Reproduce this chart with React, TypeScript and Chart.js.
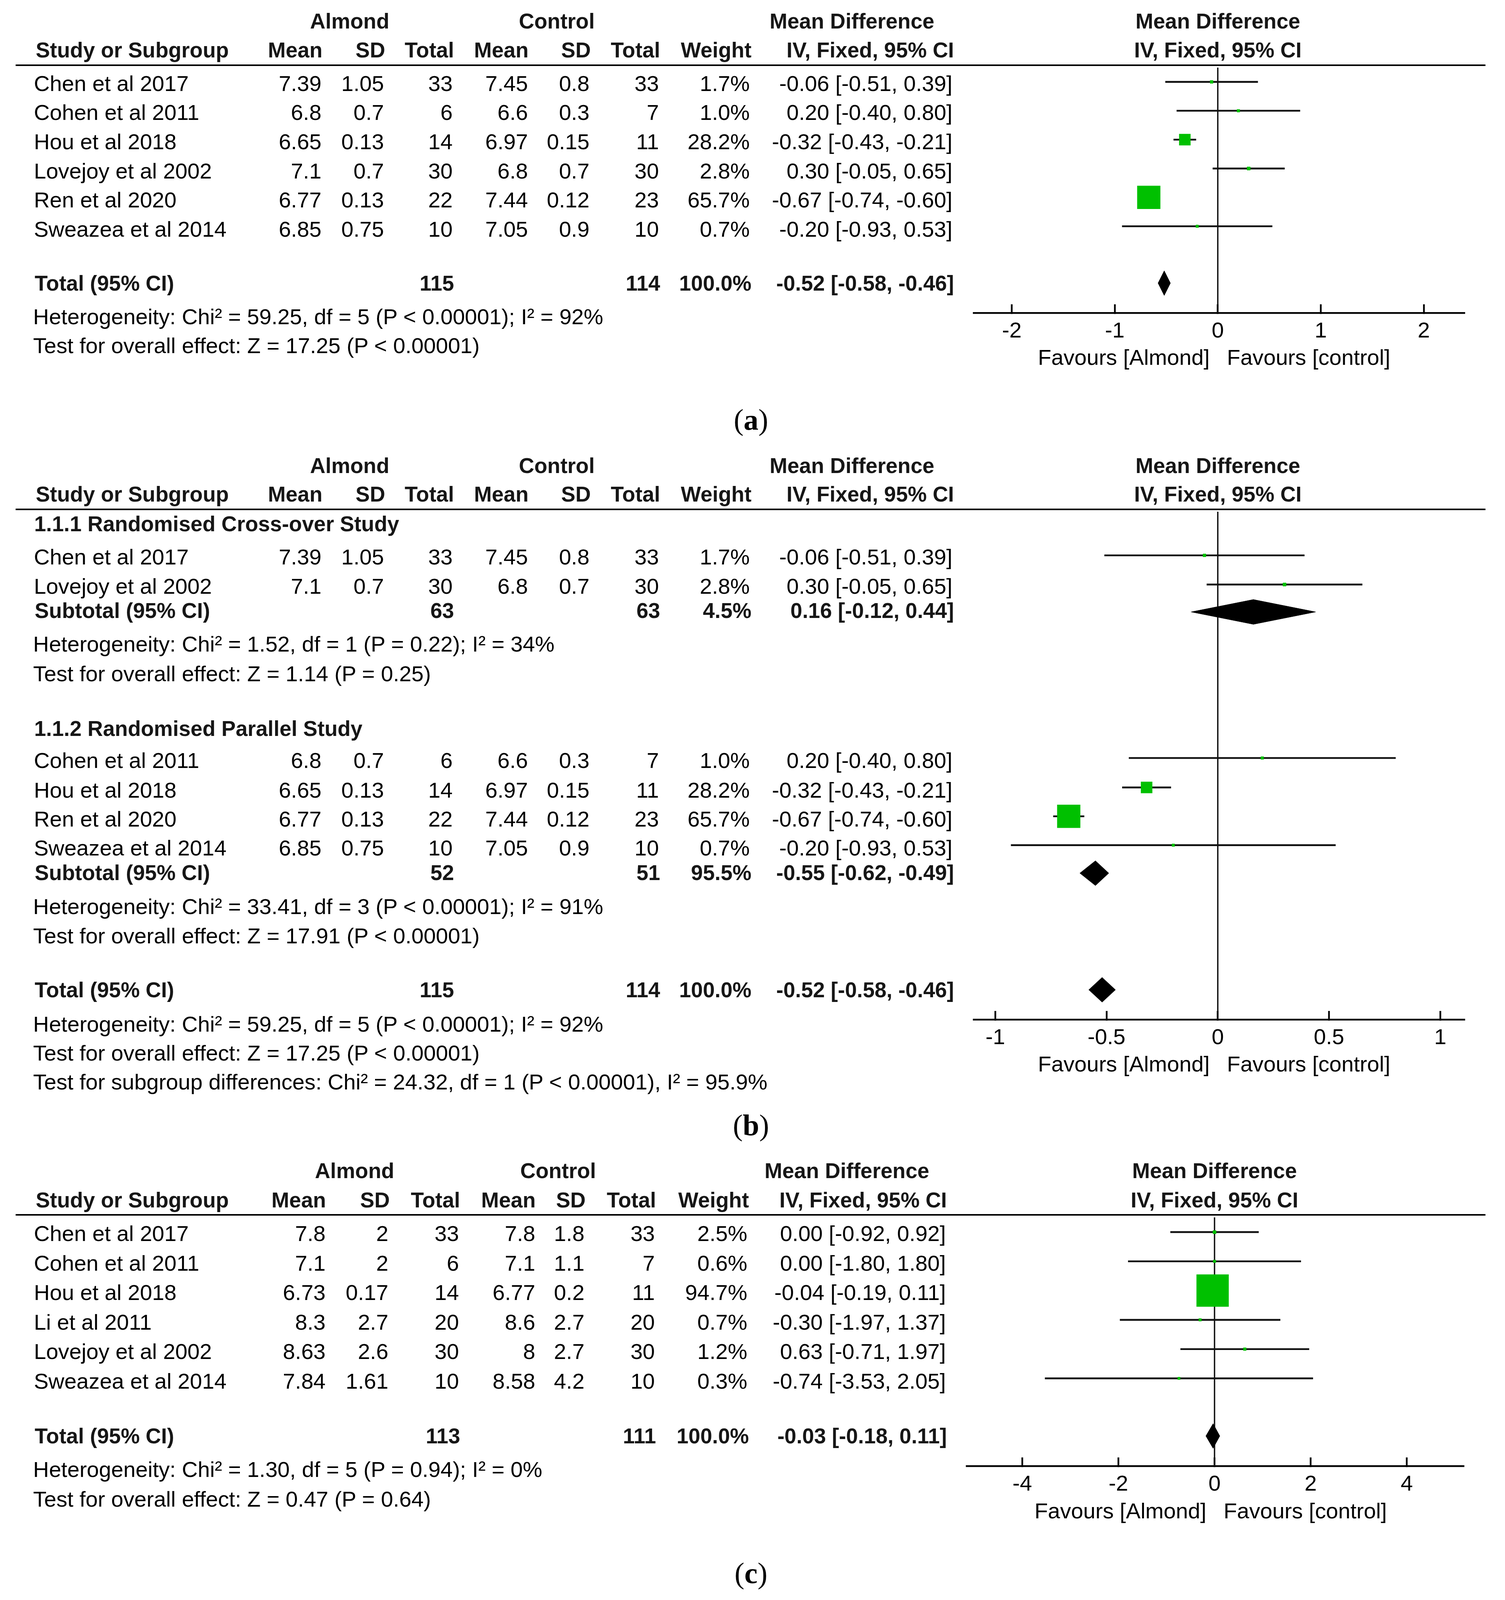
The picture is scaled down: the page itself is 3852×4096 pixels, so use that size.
import React, { useEffect, useRef } from "react";
import { Chart, registerables } from "chart.js";

Chart.register(...registerables);

// ---------- global scale (reference shown at 1475 px wide) ----------
const K = 3852 / 1475;
const SANS = '"Liberation Sans", Arial, Helvetica, sans-serif';
const SERIF = '"Liberation Serif", "Times New Roman", serif';
const FS = 21.5 * K;
const FSB = 20.9 * K;
const INK = "#000000";
const HEAD_INK = "#161616";
const GREEN = "#00C000";

// ---------- panel (a) data ----------
const studiesA = ["Chen et al 2017", "Cohen et al 2011", "Hou et al 2018", "Lovejoy et al 2002", "Ren et al 2020", "Sweazea et al 2014"];
const almondMeanA = [7.39, 6.8, 6.65, 7.1, 6.77, 6.85];
const almondSdA = [1.05, 0.7, 0.13, 0.7, 0.13, 0.75];
const almondNA = [33, 6, 14, 30, 22, 10];
const controlMeanA = [7.45, 6.6, 6.97, 6.8, 7.44, 7.05];
const controlSdA = [0.8, 0.3, 0.15, 0.7, 0.12, 0.9];
const controlNA = [33, 7, 11, 30, 23, 10];
const weightA = [1.7, 1.0, 28.2, 2.8, 65.7, 0.7];
const mdA = [-0.06, 0.2, -0.32, 0.3, -0.67, -0.2];
const loA = [-0.51, -0.4, -0.43, -0.05, -0.74, -0.93];
const hiA = [0.39, 0.8, -0.21, 0.65, -0.6, 0.53];
const totalA = [-0.52, -0.58, -0.46]; // md, lo, hi
const totalNA = [115, 114];
const statsA = [
  "Heterogeneity: Chi² = 59.25, df = 5 (P < 0.00001); I² = 92%",
  "Test for overall effect: Z = 17.25 (P < 0.00001)",
];
const ticksA = [-2, -1, 0, 1, 2];

// ---------- panel (b) data (subgroups index into the (a) study arrays) ----------
const groupNamesB = ["1.1.1 Randomised Cross-over Study", "1.1.2 Randomised Parallel Study"];
const groupB1 = [0, 3];
const groupB2 = [1, 2, 4, 5];
const subtotalB1 = [0.16, -0.12, 0.44];
const subtotalB2 = [-0.55, -0.62, -0.49];
const subNB1 = [63, 63];
const subNB2 = [52, 51];
const subWeightB = [4.5, 95.5];
const statsB1 = [
  "Heterogeneity: Chi² = 1.52, df = 1 (P = 0.22); I² = 34%",
  "Test for overall effect: Z = 1.14 (P = 0.25)",
];
const statsB2 = [
  "Heterogeneity: Chi² = 33.41, df = 3 (P < 0.00001); I² = 91%",
  "Test for overall effect: Z = 17.91 (P < 0.00001)",
];
const statsBTotal = [
  "Heterogeneity: Chi² = 59.25, df = 5 (P < 0.00001); I² = 92%",
  "Test for overall effect: Z = 17.25 (P < 0.00001)",
  "Test for subgroup differences: Chi² = 24.32, df = 1 (P < 0.00001), I² = 95.9%",
];
const ticksB = [-1, -0.5, 0, 0.5, 1];

// ---------- panel (c) data ----------
const studiesC = ["Chen et al 2017", "Cohen et al 2011", "Hou et al 2018", "Li et al 2011", "Lovejoy et al 2002", "Sweazea et al 2014"];
const almondMeanC = [7.8, 7.1, 6.73, 8.3, 8.63, 7.84];
const almondSdC = [2, 2, 0.17, 2.7, 2.6, 1.61];
const almondNC = [33, 6, 14, 20, 30, 10];
const controlMeanC = [7.8, 7.1, 6.77, 8.6, 8, 8.58];
const controlSdC = [1.8, 1.1, 0.2, 2.7, 2.7, 4.2];
const controlNC = [33, 7, 11, 20, 30, 10];
const weightC = [2.5, 0.6, 94.7, 0.7, 1.2, 0.3];
const mdC = [0.0, 0.0, -0.04, -0.3, 0.63, -0.74];
const loC = [-0.92, -1.8, -0.19, -1.97, -0.71, -3.53];
const hiC = [0.92, 1.8, 0.11, 1.37, 1.97, 2.05];
const totalC = [-0.03, -0.18, 0.11];
const totalNC = [113, 111];
const statsC = [
  "Heterogeneity: Chi² = 1.30, df = 5 (P = 0.94); I² = 0%",
  "Test for overall effect: Z = 0.47 (P = 0.64)",
];
const ticksC = [-4, -2, 0, 2, 4];

const headerTop = ["Almond", "Control", "Mean Difference"];
const headerCols = ["Study or Subgroup", "Mean", "SD", "Total", "Mean", "SD", "Total", "Weight", "IV, Fixed, 95% CI"];
const favours = ["Favours [Almond]", "Favours [control]"];

// ---------- layout (in reference-thumbnail px) ----------
type Cols = { name: number; mean: number; sd: number; total: number; cmean: number; csd: number; ctotal: number; weight: number; ci: number };
const COLS_AB: Cols = { name: 33.2, mean: 315, sd: 376.3, total: 443.6, cmean: 517.4, csd: 577.7, ctotal: 645.8, weight: 734.8, ci: 933.4 };
const HCOLS_AB: Cols = { name: 35, mean: 316, sd: 377.5, total: 445, cmean: 518, csd: 579, ctotal: 647, weight: 736.5, ci: 935 };
const COLS_C: Cols = { name: 33.2, mean: 319.1, sd: 380.6, total: 449.8, cmean: 524.6, csd: 572.8, ctotal: 641.8, weight: 732.4, ci: 927 };
const HCOLS_C: Cols = { name: 35, mean: 319.5, sd: 382, total: 451, cmean: 525, csd: 574, ctotal: 643, weight: 734, ci: 928 };
const TOP_AB = [342.7, 545.7, 835];
const TOP_C = [347.5, 547, 830];

type PlotLayout = { h1: number; h2: number; line: number; axis: number; base: number; rowH: number; zero: number; unit: number; left: number; right: number; fav: number; label: number };
const LAY_A: PlotLayout = { h1: 20.9, h2: 49.5, line: 63.9, axis: 306.6, base: 78.1, rowH: 28.56, zero: 1193.6, unit: 101.9, left: 952, right: 1438, fav: 350.3, label: 411.5 };
const LAY_B: PlotLayout = { h1: 456.8, h2: 484.9, line: 499.4, axis: 999.3, base: 542.4, rowH: 28.7, zero: 1193.6, unit: 220.1, left: 952, right: 1438, fav: 1043, label: 1103 };
const LAY_C: PlotLayout = { h1: 1148, h2: 1176.7, line: 1190.9, axis: 1436.9, base: 1205.5, rowH: 28.94, zero: 1190.3, unit: 47.56, left: 945.1, right: 1437.4, fav: 1481, label: 1542.5 };

const SLOTS_A = [0, 1, 2, 3, 4, 5];
const TOTAL_SLOT_A = 6.97;
const SLOTS_B1 = [0, 1];
const SUB_SLOT_B1 = 1.94;
const SLOTS_B2 = [6.95, 7.96, 8.95, 9.94];
const SUB_SLOT_B2 = 10.9;
const TOTAL_SLOT_B = 14.9;
const SLOTS_C = [0, 1, 2, 3, 4, 5];
const TOTAL_SLOT_C = 6.97;

const STUDY_OFF = 3.8;
const TOTAL_OFF = 0.7;
const AXIS_H = 100;
const DIAMOND_HALF = 12.2; // thumbnail px
const squareSide = (w: number) => (7 + 0.8 * w) * 0.999;

const f2 = (v: number) => v.toFixed(2);
const ciText = (md: number, lo: number, hi: number) => `${f2(md)} [${f2(lo)}, ${f2(hi)}]`;

// ---------- text ----------
function T({ x, y, s, a = "l", b = false }: { x: number; y: number; s: React.ReactNode; a?: "l" | "r" | "c"; b?: boolean }) {
  const tx = a === "l" ? "0" : a === "r" ? "-100%" : "-50%";
  return (
    <div
      style={{
        position: "absolute",
        left: x * K,
        top: y * K,
        transform: `translate(${tx}, -50%)`,
        fontFamily: SANS,
        fontSize: b ? FSB : FS,
        fontWeight: b ? 700 : 400,
        lineHeight: 1,
        whiteSpace: "nowrap",
        color: b ? HEAD_INK : INK,
      }}
    >
      {s}
    </div>
  );
}

function Header({ lay, hc, top }: { lay: PlotLayout; hc: Cols; top: number[] }) {
  const keys: (keyof Cols)[] = ["mean", "sd", "total", "cmean", "csd", "ctotal", "weight", "ci"];
  return (
    <>
      {headerTop.map((s, i) => (
        <T key={"t" + i} x={top[i]} y={lay.h1} s={s} a="c" b />
      ))}
      <T x={lay.zero} y={lay.h1} s={headerTop[2]} a="c" b />
      <T x={hc.name} y={lay.h2} s={headerCols[0]} b />
      {keys.map((k, i) => (
        <T key={"h" + i} x={hc[k]} y={lay.h2} s={headerCols[i + 1]} a="r" b />
      ))}
      <T x={lay.zero} y={lay.h2} s={headerCols[8]} a="c" b />
      <div
        style={{
          position: "absolute",
          left: 15.2 * K,
          top: lay.line * K - 2.3,
          width: (1455.7 - 15.2) * K,
          height: 4.6,
          background: "#000",
        }}
      />
    </>
  );
}

function StudyRow({ y, c, v }: { y: number; c: Cols; v: (string | number)[] }) {
  return (
    <>
      <T x={c.name} y={y} s={v[0]} />
      <T x={c.mean} y={y} s={String(v[1])} a="r" />
      <T x={c.sd} y={y} s={String(v[2])} a="r" />
      <T x={c.total} y={y} s={String(v[3])} a="r" />
      <T x={c.cmean} y={y} s={String(v[4])} a="r" />
      <T x={c.csd} y={y} s={String(v[5])} a="r" />
      <T x={c.ctotal} y={y} s={String(v[6])} a="r" />
      <T x={c.weight} y={y} s={String(v[7])} a="r" />
      <T x={c.ci} y={y} s={String(v[8])} a="r" />
    </>
  );
}

function SumRow({ y, c, label, nA, nC, w, ci }: { y: number; c: Cols; label: string; nA: number; nC: number; w: number; ci: string }) {
  return (
    <>
      <T x={34} y={y} s={label} b />
      <T x={c.total} y={y} s={String(nA)} a="r" b />
      <T x={c.ctotal} y={y} s={String(nC)} a="r" b />
      <T x={c.weight} y={y} s={w.toFixed(1) + "%"} a="r" b />
      <T x={c.ci} y={y} s={ci} a="r" b />
    </>
  );
}

function Favours({ lay }: { lay: PlotLayout }) {
  return (
    <>
      <T x={lay.zero - 8.0} y={lay.fav} s={favours[0]} a="r" />
      <T x={lay.zero + 8.9} y={lay.fav} s={favours[1]} />
    </>
  );
}

function PanelLabel({ y, ch }: { y: number; ch: string }) {
  return (
    <div
      style={{
        position: "absolute",
        left: 736 * K,
        top: y * K,
        transform: "translate(-50%, -50%)",
        fontFamily: SERIF,
        fontSize: 29 * K,
        lineHeight: 1,
        color: "#000",
        whiteSpace: "nowrap",
      }}
    >
      (<b>{ch}</b>)
    </div>
  );
}

// ---------- forest plot (Chart.js) ----------
type StudyMark = { md: number; lo: number; hi: number; w: number; slot: number };
type DiamondMark = { md: number; lo: number; hi: number; slot: number };

function Forest({ lay, ticks, studies, diamonds }: { lay: PlotLayout; ticks: number[]; studies: StudyMark[]; diamonds: DiamondMark[] }) {
  const ref = useRef<HTMLCanvasElement | null>(null);
  const left = Math.round(lay.left * K);
  const top = Math.round(lay.line * K);
  const width = Math.round(lay.right * K) - left;
  const areaH = Math.round(lay.axis * K) - top;
  const height = areaH + AXIS_H;

  useEffect(() => {
    if (!ref.current) return;
    const yMin = (lay.line - lay.base) / lay.rowH;
    const yMax = (lay.axis - lay.base) / lay.rowH;
    const xMin = (lay.left - lay.zero) / lay.unit;
    const xMax = (lay.right - lay.zero) / lay.unit;
    const half = DIAMOND_HALF / lay.rowH;

    const datasets: any[] = [
      {
        data: studies.map((s) => ({ x: s.md, y: s.slot, w: s.w })),
        showLine: false,
        pointStyle: "rect",
        pointRadius: (c: any) => (c.raw ? squareSide(c.raw.w) / Math.SQRT2 : 0),
        pointHoverRadius: (c: any) => (c.raw ? squareSide(c.raw.w) / Math.SQRT2 : 0),
        pointBackgroundColor: GREEN,
        pointBorderWidth: 0,
        backgroundColor: GREEN,
        borderColor: GREEN,
        borderWidth: 0,
      },
      ...studies.map((s) => ({
        data: [
          { x: s.lo, y: s.slot },
          { x: s.hi, y: s.slot },
        ],
        borderColor: "#111111",
        borderWidth: 4.6,
        pointRadius: 0,
        fill: false,
      })),
      ...diamonds.map((d) => ({
        data: [
          { x: d.lo, y: d.slot },
          { x: d.md, y: d.slot - half },
          { x: d.hi, y: d.slot },
          { x: d.md, y: d.slot + half },
          { x: d.lo, y: d.slot },
        ],
        fill: "shape",
        backgroundColor: "#000000",
        borderColor: "#000000",
        borderWidth: 1,
        pointRadius: 0,
        tension: 0,
      })),
      {
        data: [
          { x: 0, y: yMin },
          { x: 0, y: yMax },
        ],
        borderColor: "#111111",
        borderWidth: 3.5,
        pointRadius: 0,
        fill: false,
      },
    ];

    const chart = new Chart(ref.current, {
      type: "line",
      data: { datasets },
      options: {
        animation: false,
        responsive: false,
        maintainAspectRatio: false,
        devicePixelRatio: 1,
        events: [],
        layout: { padding: 0 },
        plugins: { legend: { display: false }, tooltip: { enabled: false } },
        scales: {
          x: {
            type: "linear",
            position: "bottom",
            min: xMin,
            max: xMax,
            afterBuildTicks: (s: any) => {
              s.ticks = ticks.map((v) => ({ value: v }));
            },
            afterFit: (s: any) => {
              s.height = AXIS_H;
            },
            ticks: {
              callback: (v: any) => String(v),
              font: { family: "Liberation Sans", size: FS },
              color: "#000",
              padding: 36,
              maxRotation: 0,
              minRotation: 0,
              autoSkip: false,
            },
            grid: {
              display: true,
              drawOnChartArea: false,
              drawTicks: true,
              tickLength: -22,
              tickWidth: 4.4,
              tickColor: "#000",
            },
            border: { display: true, width: 4.6, color: "#000" },
          },
          y: { type: "linear", display: false, reverse: true, min: yMin, max: yMax },
        },
      } as any,
    });
    return () => chart.destroy();
  }, []);

  return <canvas ref={ref} width={width} height={height} style={{ position: "absolute", left, top, width, height }} />;
}

// ---------- panels ----------
function PanelA() {
  const lay = LAY_A;
  const rowY = (s: number, off: number) => lay.base + s * lay.rowH + off;
  const studies: StudyMark[] = studiesA.map((_, i) => ({ md: mdA[i], lo: loA[i], hi: hiA[i], w: weightA[i], slot: SLOTS_A[i] }));
  return (
    <>
      <Header lay={lay} hc={HCOLS_AB} top={TOP_AB} />
      {studiesA.map((n, i) => (
        <StudyRow
          key={i}
          y={rowY(SLOTS_A[i], STUDY_OFF)}
          c={COLS_AB}
          v={[n, almondMeanA[i], almondSdA[i], almondNA[i], controlMeanA[i], controlSdA[i], controlNA[i], weightA[i].toFixed(1) + "%", ciText(mdA[i], loA[i], hiA[i])]}
        />
      ))}
      <SumRow y={rowY(TOTAL_SLOT_A, TOTAL_OFF)} c={HCOLS_AB} label="Total (95% CI)" nA={totalNA[0]} nC={totalNA[1]} w={100} ci={ciText(totalA[0], totalA[1], totalA[2])} />
      <T x={32.5} y={310.5} s={statsA[0]} />
      <T x={32.5} y={339} s={statsA[1]} />
      <Forest lay={lay} ticks={ticksA} studies={studies} diamonds={[{ md: totalA[0], lo: totalA[1], hi: totalA[2], slot: TOTAL_SLOT_A }]} />
      <Favours lay={lay} />
      <PanelLabel y={lay.label} ch="a" />
    </>
  );
}

function PanelB() {
  const lay = LAY_B;
  const rowY = (s: number, off: number) => lay.base + s * lay.rowH + off;
  const mk = (idx: number[], slots: number[]): StudyMark[] => idx.map((i, j) => ({ md: mdA[i], lo: loA[i], hi: hiA[i], w: weightA[i], slot: slots[j] }));
  const studies = [...mk(groupB1, SLOTS_B1), ...mk(groupB2, SLOTS_B2)];
  const rows = (idx: number[], slots: number[]) =>
    idx.map((i, j) => (
      <StudyRow
        key={"r" + i}
        y={rowY(slots[j], STUDY_OFF)}
        c={COLS_AB}
        v={[studiesA[i], almondMeanA[i], almondSdA[i], almondNA[i], controlMeanA[i], controlSdA[i], controlNA[i], weightA[i].toFixed(1) + "%", ciText(mdA[i], loA[i], hiA[i])]}
      />
    ));
  return (
    <>
      <Header lay={lay} hc={HCOLS_AB} top={TOP_AB} />
      <T x={33.5} y={514} s={groupNamesB[0]} b />
      {rows(groupB1, SLOTS_B1)}
      <SumRow y={rowY(SUB_SLOT_B1, TOTAL_OFF)} c={HCOLS_AB} label="Subtotal (95% CI)" nA={subNB1[0]} nC={subNB1[1]} w={subWeightB[0]} ci={ciText(subtotalB1[0], subtotalB1[1], subtotalB1[2])} />
      <T x={32.5} y={631.5} s={statsB1[0]} />
      <T x={32.5} y={660.5} s={statsB1[1]} />
      <T x={33.5} y={714.5} s={groupNamesB[1]} b />
      {rows(groupB2, SLOTS_B2)}
      <SumRow y={rowY(SUB_SLOT_B2, TOTAL_OFF)} c={HCOLS_AB} label="Subtotal (95% CI)" nA={subNB2[0]} nC={subNB2[1]} w={subWeightB[1]} ci={ciText(subtotalB2[0], subtotalB2[1], subtotalB2[2])} />
      <T x={32.5} y={888.8} s={statsB2[0]} />
      <T x={32.5} y={917.5} s={statsB2[1]} />
      <SumRow y={rowY(TOTAL_SLOT_B, TOTAL_OFF)} c={HCOLS_AB} label="Total (95% CI)" nA={totalNA[0]} nC={totalNA[1]} w={100} ci={ciText(totalA[0], totalA[1], totalA[2])} />
      <T x={32.5} y={1004.1} s={statsBTotal[0]} />
      <T x={32.5} y={1032.3} s={statsBTotal[1]} />
      <T x={32.5} y={1060.5} s={statsBTotal[2]} />
      <Forest
        lay={lay}
        ticks={ticksB}
        studies={studies}
        diamonds={[
          { md: subtotalB1[0], lo: subtotalB1[1], hi: subtotalB1[2], slot: SUB_SLOT_B1 },
          { md: subtotalB2[0], lo: subtotalB2[1], hi: subtotalB2[2], slot: SUB_SLOT_B2 },
          { md: totalA[0], lo: totalA[1], hi: totalA[2], slot: TOTAL_SLOT_B },
        ]}
      />
      <Favours lay={lay} />
      <PanelLabel y={lay.label} ch="b" />
    </>
  );
}

function PanelC() {
  const lay = LAY_C;
  const rowY = (s: number, off: number) => lay.base + s * lay.rowH + off;
  const studies: StudyMark[] = studiesC.map((_, i) => ({ md: mdC[i], lo: loC[i], hi: hiC[i], w: weightC[i], slot: SLOTS_C[i] }));
  return (
    <>
      <Header lay={lay} hc={HCOLS_C} top={TOP_C} />
      {studiesC.map((n, i) => (
        <StudyRow
          key={i}
          y={rowY(SLOTS_C[i], STUDY_OFF)}
          c={COLS_C}
          v={[n, almondMeanC[i], almondSdC[i], almondNC[i], controlMeanC[i], controlSdC[i], controlNC[i], weightC[i].toFixed(1) + "%", ciText(mdC[i], loC[i], hiC[i])]}
        />
      ))}
      <SumRow y={rowY(TOTAL_SLOT_C, TOTAL_OFF)} c={HCOLS_C} label="Total (95% CI)" nA={totalNC[0]} nC={totalNC[1]} w={100} ci={ciText(totalC[0], totalC[1], totalC[2])} />
      <T x={32.5} y={1440.5} s={statsC[0]} />
      <T x={32.5} y={1469.5} s={statsC[1]} />
      <Forest lay={lay} ticks={ticksC} studies={studies} diamonds={[{ md: totalC[0], lo: totalC[1], hi: totalC[2], slot: TOTAL_SLOT_C }]} />
      <Favours lay={lay} />
      <PanelLabel y={lay.label} ch="c" />
    </>
  );
}

export default function App() {
  useEffect(() => {
    document.body.style.margin = "0";
    document.body.style.overflow = "hidden";
    document.documentElement.style.overflow = "hidden";
  }, []);
  return (
    <div
      style={{
        position: "absolute",
        left: 0,
        top: 0,
        width: 3852,
        height: 4096,
        background: "#ffffff",
        overflow: "hidden",
      }}
    >
      <PanelA />
      <PanelB />
      <PanelC />
    </div>
  );
}
